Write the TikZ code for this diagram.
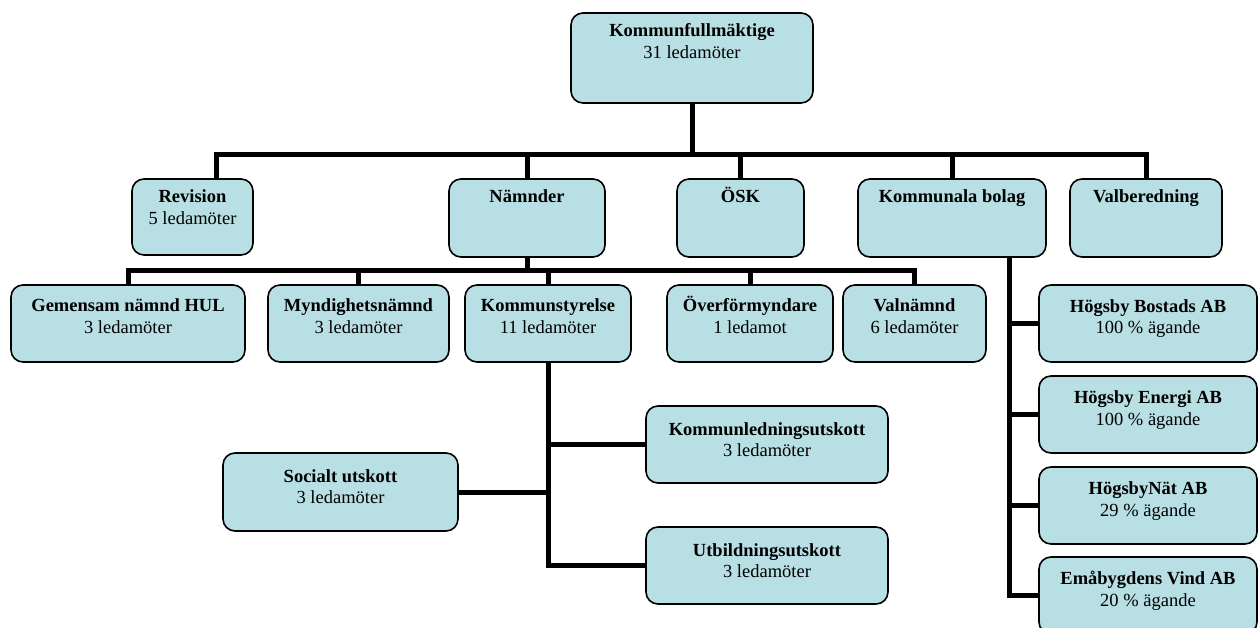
\documentclass[tikz,border=0pt]{standalone}
\usepackage{fontspec}
\setmainfont{Liberation Serif}
\usepackage{tikz}

\definecolor{boxfill}{RGB}{184,223,228}
% box text: width, height, first baseline, lines
\newcommand{\orgtext}[4]{\parbox[c][#2pt][t]{#1pt}{\centering\rule{0pt}{#3pt}#4}}

\begin{document}
\begin{tikzpicture}[x=1pt, y=-1pt,
	every node/.style={font=\fontsize{18.5}{21.5}\selectfont},
	orgbox/.style={
		draw=black,
		line width=1.6pt,
		rounded corners=12pt,
		fill=boxfill,
		inner sep=0pt,
		outer sep=0pt,
		anchor=north west},
	conn/.style={line width=5pt}
	]
	\clip (0,0) rectangle (1258,628);
	
	% top
	\node[orgbox] (kf) at (571,13) {\orgtext{242}{90}{24}{\textbf{Kommunfullmäktige}\\31 ledamöter}};
	
	% second row
	\node[orgbox] (rev) at (132,179) {\orgtext{121}{76}{24}{\textbf{Revision}\\5 ledamöter}};
	\node[orgbox] (namnder) at (449,179) {\orgtext{156}{78}{24}{\textbf{Nämnder}}};
	\node[orgbox] (osk) at (677,179) {\orgtext{127}{78}{24}{\textbf{ÖSK}}};
	\node[orgbox] (bolag) at (858,179) {\orgtext{188}{78}{24}{\textbf{Kommunala bolag}}};
	\node[orgbox] (valb) at (1070,179) {\orgtext{152}{78}{24}{\textbf{Valberedning}}};
	
	% nämnder
	\node[orgbox] (hul) at (11,285) {\orgtext{234}{77}{27}{\textbf{Gemensam nämnd HUL}\\3 ledamöter}};
	\node[orgbox] (mynd) at (268,285) {\orgtext{181}{77}{27}{\textbf{Myndighetsnämnd}\\3 ledamöter}};
	\node[orgbox] (ks) at (465,285) {\orgtext{166}{77}{27}{\textbf{Kommunstyrelse}\\11 ledamöter}};
	\node[orgbox] (overf) at (667,285) {\orgtext{166}{77}{27}{\textbf{Överförmyndare}\\1 ledamot}};
	\node[orgbox] (valn) at (843,285) {\orgtext{143}{77}{27}{\textbf{Valnämnd}\\6 ledamöter}};
	
	% utskott
	\node[orgbox] (kl) at (646,406) {\orgtext{242}{77}{29}{\textbf{Kommunledningsutskott}\\3 ledamöter}};
	\node[orgbox] (soc) at (223,453) {\orgtext{235}{78}{29}{\textbf{Socialt utskott}\\3 ledamöter}};
	\node[orgbox] (utb) at (646,527) {\orgtext{242}{77}{29}{\textbf{Utbildningsutskott}\\3 ledamöter}};
	
	% bolag
	\node[orgbox] (bost) at (1039,285) {\orgtext{218}{77}{27.5}{\textbf{Högsby Bostads AB}\\100 \% ägande}};
	\node[orgbox] (energi) at (1039,376) {\orgtext{218}{77}{27.5}{\textbf{Högsby Energi AB}\\100 \% ägande}};
	\node[orgbox] (nat) at (1039,467) {\orgtext{218}{77}{27.5}{\textbf{HögsbyNät AB}\\29 \% ägande}};
	\node[orgbox] (vind) at (1039,557) {\orgtext{218}{77}{27.5}{\textbf{Emåbygdens Vind AB}\\20 \% ägande}};
	
	% connectors
	\coordinate (bus1) at (0,155);
	\coordinate (bus2) at (0,271);
	\coordinate (bv) at ([xshift=57pt]bolag.south);
	
	\draw[conn] (kf.south) -- (kf.south |- bus1);
	\draw[conn] ([xshift=23.5pt]rev.north) |- (valb.north |- bus1) -- (valb.north);
	\foreach \n in {namnder, osk, bolag}
		\draw[conn] (\n.north) -- (\n.north |- bus1);
	
	\draw[conn] (namnder.south) -- (namnder.south |- bus2);
	\draw[conn] (hul.north) |- (valn.north |- bus2) -- (valn.north);
	\foreach \n in {mynd, ks, overf}
		\draw[conn] (\n.north) -- (\n.north |- bus2);
	
	\draw[conn] (ks.south) |- (utb.west);
	\draw[conn] (kl.west) -- (kl.west -| ks.south);
	\draw[conn] (soc.east) -- (soc.east -| ks.south);
	
	\draw[conn] (bv) |- (vind.west);
	\foreach \n in {bost, energi, nat}
		\draw[conn] (\n.west) -- (\n.west -| bv);
	
\end{tikzpicture}
\end{document}
